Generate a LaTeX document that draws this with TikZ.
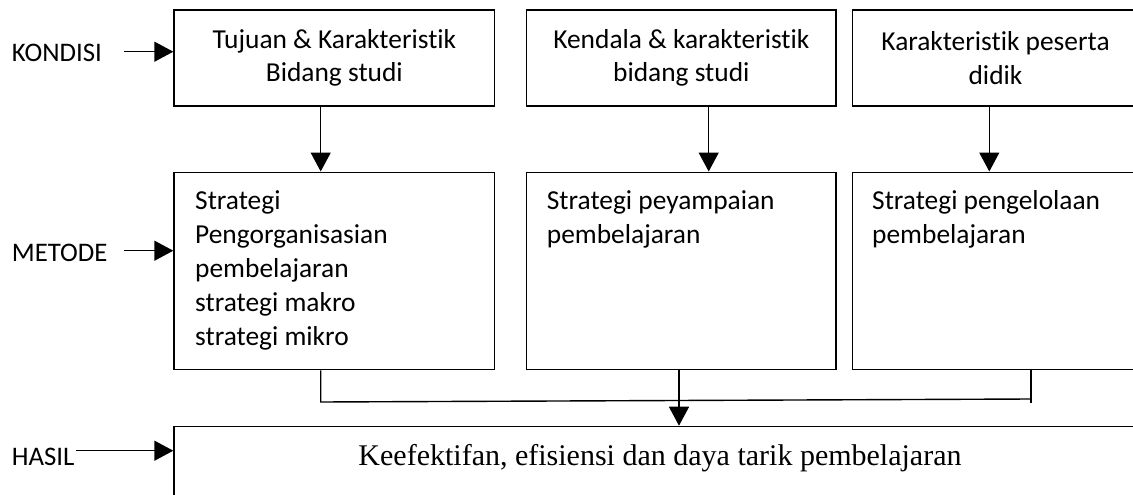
\documentclass[tikz,border=0pt]{standalone}
\usepackage{fontspec}
\setmainfont{Carlito}[Ligatures=NoCommon]
\newfontfamily\serifbody{Liberation Serif}
\usetikzlibrary{arrows.meta}
\begin{document}
\begin{tikzpicture}[x=1pt,y=-1pt,
  box/.style={draw, line width=1.4pt, rectangle, inner sep=0pt, anchor=north west},
  toptext/.style={align=center, font=\fontsize{27.4}{33.4}\selectfont},
  midtext/.style={anchor=base west, inner sep=0pt, font=\fontsize{27.4}{34}\selectfont},
  lab/.style={anchor=base west, inner sep=0pt, font=\fontsize{26.8}{32}\selectfont},
  arr/.style={line width=1.4pt, -{Triangle[length=19pt,width=20pt]}},
  conn/.style={line width=1.4pt}]
\useasboundingbox (0,0) rectangle (1133,495);
\clip (0,0) rectangle (1133,495);
\fill[white] (0,0) rectangle (1133,495);

% top row
\node[box, minimum width=320.7pt, minimum height=96pt, toptext] (t1) at (173.3,9.3) {Tujuan \& Karakteristik\\Bidang studi};
\node[box, minimum width=309.3pt, minimum height=96pt, toptext] (t2) at (526,9.3) {Kendala \& karakteristik\\bidang studi};
\node[box, minimum width=286pt, minimum height=96pt, toptext] (t3) at (851.8,9.3) {Karakteristik peserta\\didik};

% middle row
\node[box, minimum width=320.7pt, minimum height=197.5pt] (m1) at (173.3,171.5) {};
\node[box, minimum width=309.3pt, minimum height=197.5pt] (m2) at (526,171.5) {};
\node[box, minimum width=286pt, minimum height=197.5pt] (m3) at (851.8,171.5) {};
\node[midtext] (m1t) at (195,209.3) {\parbox[t]{290pt}{\raggedright Strategi\\Pengorganisasian\\pembelajaran\\strategi makro\\strategi mikro}};
\node[midtext] (m2t) at (546.7,209.3) {\parbox[t]{280pt}{\raggedright Strategi peyampaian\\pembelajaran}};
\node[midtext] (m3t) at (872,209.3) {\parbox[t]{260pt}{\raggedright Strategi pengelolaan\\pembelajaran}};

% bottom box
\node[box, minimum width=974pt, minimum height=110pt] (b) at (173.3,425.7) {};
\node[anchor=base, inner sep=0pt, font=\serifbody\fontsize{30}{36}\selectfont] (bt) at (660,465) {Keefektifan, efisiensi dan daya tarik pembelajaran};

% left labels
\node[lab] (kondisi) at (11.7,61.7) {KONDISI};
\node[lab] (metode) at (11.7,261.7) {METODE};
\node[lab] (hasil) at (11.7,465) {HASIL};
\coordinate (ka) at (124,51.7);
\coordinate (ma) at (124,250.7);
\coordinate (ha) at (76,450.7);
\draw[arr] (ka) -- (ka -| t1.west);
\draw[arr] (ma) -- (ma -| m1.west);
\draw[arr] (ha) -- (ha -| b.west);

% vertical arrows top -> middle
\coordinate (c1) at (320.7,0);
\coordinate (c2) at (708.7,0);
\coordinate (c3) at (989.3,0);
\draw[arr] (c1 |- t1.south) -- (c1 |- m1.north);
\draw[arr] (c2 |- t2.south) -- (c2 |- m2.north);
\draw[arr] (c3 |- t3.south) -- (c3 |- m3.north);

% joining connector to result
\coordinate (cb) at (679,0);
\coordinate (cr) at (1031,0);
\coordinate (j1) at (320.7,402);
\coordinate (j2) at (1031,399);
\coordinate (j3) at (1031,403);
\draw[conn] (c1 |- m1.south) -- (j1) -- (j2);
\draw[conn] (cr |- m3.south) -- (j3);
\draw[arr] (cb |- m2.south) -- (cb |- b.north);
\end{tikzpicture}
\end{document}
